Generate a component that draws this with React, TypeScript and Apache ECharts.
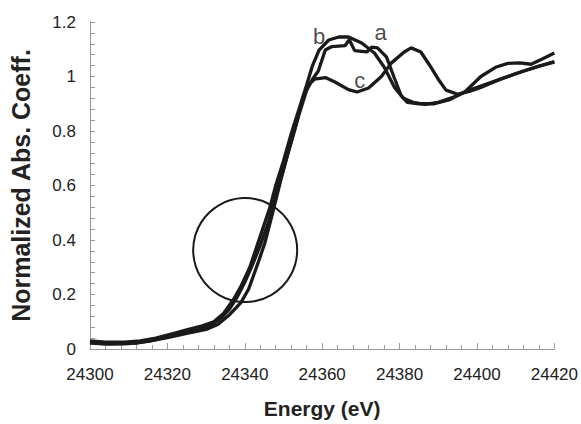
import React, { useEffect, useRef } from "react";
import * as echarts from "echarts";

// Energy (eV) / normalized absorption pairs
const curveA: [number, number][] = [
  [24300, 0.025], [24303, 0.02], [24308, 0.02], [24312, 0.022], [24316, 0.032],
  [24320, 0.045], [24324, 0.058], [24328, 0.07], [24331, 0.085], [24334, 0.115],
  [24336, 0.145], [24338, 0.19], [24340, 0.245], [24342, 0.31], [24344, 0.38],
  [24346, 0.46], [24348, 0.56], [24350, 0.66], [24352, 0.76], [24354, 0.86],
  [24356, 0.95], [24357.5, 0.99], [24359, 1.02], [24360.8, 1.097], [24362.5, 1.11],
  [24365.9, 1.113], [24367, 1.135], [24368.4, 1.095], [24371.5, 1.09], [24372.8, 1.108],
  [24374.3, 1.105], [24376.6, 1.072], [24378.5, 1.0], [24380.4, 0.93], [24382, 0.905],
  [24385, 0.9], [24389, 0.9], [24393, 0.915], [24397, 0.945], [24401, 1.0],
  [24405, 1.035], [24408, 1.048], [24411, 1.05], [24414, 1.045], [24417, 1.065],
  [24420, 1.086],
];

const curveB: [number, number][] = [
  [24300, 0.03], [24304, 0.025], [24309, 0.025], [24313, 0.03], [24317, 0.04],
  [24321, 0.055], [24325, 0.07], [24329, 0.085], [24332, 0.1], [24334.5, 0.13],
  [24337, 0.18], [24339, 0.23], [24341.3, 0.3], [24343.9, 0.41], [24346.5, 0.52],
  [24348, 0.6], [24350, 0.69], [24352, 0.79], [24354, 0.88], [24356, 0.97],
  [24357.5, 1.04], [24359.2, 1.097], [24361.7, 1.134], [24364.3, 1.145], [24366.8, 1.145],
  [24370.2, 1.123], [24373.5, 1.086], [24376, 1.035], [24378.7, 0.96], [24381, 0.92],
  [24383.5, 0.905], [24386.5, 0.898], [24390, 0.905], [24394, 0.925], [24399, 0.955],
  [24405, 0.985], [24410, 1.01], [24415, 1.033], [24420, 1.055],
];

const curveC: [number, number][] = [
  [24300, 0.022], [24305, 0.018], [24310, 0.02], [24315, 0.028], [24320, 0.042],
  [24325, 0.057], [24330, 0.072], [24333, 0.09], [24336, 0.125], [24339, 0.17],
  [24341, 0.22], [24343.4, 0.315], [24345.2, 0.39], [24347.2, 0.5], [24349.3, 0.62],
  [24351, 0.71], [24353, 0.81], [24355, 0.92], [24356.5, 0.97], [24358, 0.99],
  [24360.8, 0.996], [24363.3, 0.98], [24366.8, 0.952], [24369, 0.943], [24372, 0.958],
  [24375.3, 1.0], [24377.9, 1.05], [24381.2, 1.09], [24383, 1.105], [24385.5, 1.09],
  [24387.6, 1.045], [24390, 0.99], [24392, 0.95], [24395, 0.935], [24398, 0.945],
  [24401, 0.96], [24406, 0.99], [24412, 1.02], [24416, 1.038], [24420, 1.053],
];

const curveLabels = ["a", "b", "c"];
const labelPositions: [number, number][] = [
  [24375.1, 1.16],
  [24359.2, 1.145],
  [24369.7, 0.987],
];

const circleCenter: [number, number] = [24340.1, 0.363];
const circleRadiusPx = 52;

const xTicks = { min: 24300, max: 24420, interval: 20 };
const yTicks = { min: 0, max: 1.2, interval: 0.2 };

export default function App() {
  const ref = useRef<HTMLDivElement>(null);

  useEffect(() => {
    if (!ref.current) return;
    const chart = echarts.init(ref.current, undefined, { renderer: "svg" });
    const lineColor = "#1a1a1a";
    const font = "Liberation Sans, Arial, sans-serif";
    const mkLine = (name: string, data: [number, number][]) => ({
      name,
      type: "line",
      data,
      showSymbol: false,
      symbol: "none",
      smooth: false,
      lineStyle: { color: lineColor, width: 3.3 },
      z: 3,
    });
    chart.setOption({
      animation: false,
      backgroundColor: "#ffffff",
      grid: { left: 85, right: 26, top: 22, bottom: 75, containLabel: false },
      xAxis: {
        type: "value",
        min: xTicks.min,
        max: xTicks.max,
        interval: xTicks.interval,
        name: "Energy (eV)",
        nameLocation: "middle",
        nameGap: 49,
        nameTextStyle: { fontFamily: font, fontWeight: "bold", fontSize: 21, color: "#222" },
        axisLine: { show: true, lineStyle: { color: "#9a9a9a", width: 1 } },
        axisTick: { show: true, inside: true, length: 6, lineStyle: { color: "#9a9a9a" } },
        minorTick: { show: true, splitNumber: 5, length: 4, lineStyle: { color: "#9a9a9a" } },
        axisLabel: {
          fontFamily: font,
          fontSize: 17,
          color: "#222",
          margin: 17,
          formatter: (v: number) => String(Math.round(v)),
        },
        splitLine: { show: false },
      },
      yAxis: {
        type: "value",
        min: yTicks.min,
        max: yTicks.max,
        interval: yTicks.interval,
        name: "Normalized Abs. Coeff.",
        nameLocation: "middle",
        nameGap: 57,
        nameTextStyle: { fontFamily: font, fontWeight: "bold", fontSize: 25, color: "#222" },
        axisLine: { show: true, lineStyle: { color: "#9a9a9a", width: 1 } },
        axisTick: { show: true, inside: true, length: 5, lineStyle: { color: "#9a9a9a" } },
        minorTick: { show: true, splitNumber: 5, length: 5, lineStyle: { color: "#9a9a9a" } },
        axisLabel: {
          fontFamily: font,
          fontSize: 17,
          color: "#222",
          margin: 14,
          formatter: (v: number) => String(Math.round(v * 10) / 10),
        },
        splitLine: { show: false },
      },
      series: [
        mkLine("a", curveA),
        mkLine("b", curveB),
        mkLine("c", curveC),
        {
          name: "labels",
          type: "scatter",
          data: labelPositions.map((p, i) => ({ value: p, name: curveLabels[i] })),
          symbolSize: 0,
          silent: true,
          z: 5,
          label: {
            show: true,
            position: "inside",
            formatter: (p: any) => p.name,
            fontFamily: font,
            fontSize: 22,
            color: "#1a1a1a",
          },
        },
      ],
    });
    const c = chart.convertToPixel({ gridIndex: 0 }, circleCenter) as number[];
    chart.setOption({
      graphic: [
        {
          type: "circle",
          shape: { cx: c[0], cy: c[1], r: circleRadiusPx },
          style: { fill: "none", stroke: "#1a1a1a", lineWidth: 2 },
          z: 10,
          silent: true,
        },
      ],
    });
    return () => chart.dispose();
  }, []);

  return (
    <div
      ref={ref}
      style={{ position: "fixed", left: 0, top: 0, width: 581, height: 424, overflow: "hidden" }}
    />
  );
}
